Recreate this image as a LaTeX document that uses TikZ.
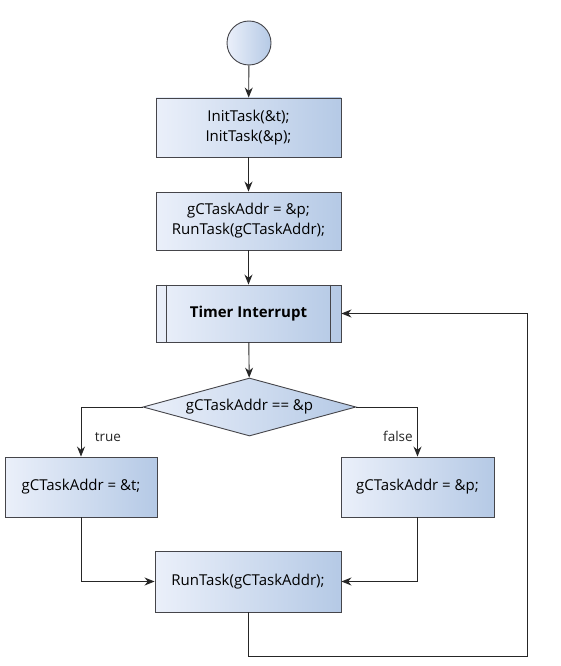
\documentclass[tikz,border=0pt]{standalone}
\usepackage{fontspec}
\setmainfont{Open Sans}
\usetikzlibrary{arrows.meta,calc,positioning,shapes.geometric}
\definecolor{paleblue}{rgb}{0.92,0.94,0.98}
\definecolor{steelblue}{rgb}{0.71,0.79,0.90}
\definecolor{edgegray}{rgb}{0.27,0.27,0.29}
\tikzset{
  proc/.style={
    draw=edgegray,
    line width=.9pt,
    left color=paleblue,
    right color=steelblue,
    align=center,
    minimum width=185pt,
    minimum height=59pt,
    inner sep=4pt,
    font=\fontsize{15}{20}\selectfont
  },
  startnode/.style={
    circle,
    draw=edgegray,
    line width=.9pt,
    left color=paleblue,
    right color=steelblue,
    minimum size=44pt,
    inner sep=0pt
  },
  decide/.style={
    diamond,
    aspect=3.67,
    draw=edgegray,
    line width=.9pt,
    left color=paleblue,
    right color=steelblue,
    minimum width=213pt,
    minimum height=58pt,
    inner sep=0pt,
    font=\fontsize{15}{18}\selectfont
  },
  arrow/.style={
    -{Stealth[length=10pt,width=8pt]},
    line width=.9pt,
    black!85
  },
  branch/.style={
    font=\fontsize{13.5}{16}\selectfont
  }
}
\begin{document}
\begin{tikzpicture}[x=1pt,y=1pt,node distance=35pt]
\fill[white] (0,0) rectangle (560,-666);
\useasboundingbox (0,0) rectangle (560,-666);
\node[startnode] (start) at (249,-43) {};
\node[proc] (init) at (248.5,-127.5) {InitTask(\&t);\\InitTask(\&p);};
\node[proc,minimum height=58pt] (first) at (248.5,-221) {gCTaskAddr = \&p;\\RunTask(gCTaskAddr);};
\node[proc,minimum height=57pt,font=\fontsize{15}{18}\selectfont\bfseries] (timer) at (248.5,-313.5) {Timer Interrupt};
\draw[edgegray,line width=.9pt] ($(timer.north west)+(11,0)$) -- ($(timer.south west)+(11,0)$);
\draw[edgegray,line width=.9pt] ($(timer.north east)+(-11,0)$) -- ($(timer.south east)+(-11,0)$);
\node[decide] (check) at (249.5,-407) {gCTaskAddr == \&p};
\node[proc,minimum width=152pt,minimum height=60pt] (yes) at (81,-487) {gCTaskAddr = \&t;};
\node[proc,minimum width=153pt,minimum height=60pt] (no) at (417.5,-487) {gCTaskAddr = \&p;};
\node[proc,minimum width=186pt,minimum height=61pt] (run) at (248,-581.5) {RunTask(gCTaskAddr);};
\coordinate (back) at (527,-656);
% flow
\draw[arrow] (start) -- (init);
\draw[arrow] (init) -- (first);
\draw[arrow] (first) -- (timer);
\draw[arrow] (timer) -- (check);
\draw[arrow] (check.west) -| node[branch,pos=.8,right=10pt] {true} (yes.north);
\draw[arrow] (check.east) -| node[branch,pos=.8,left=1pt] {false} (no.north);
\draw[arrow] (yes.south) |- (run.west);
\draw[arrow] (no.south) |- (run.east);
\draw[arrow] (run.south) |- (back) |- (timer.east);
\end{tikzpicture}
\end{document}
